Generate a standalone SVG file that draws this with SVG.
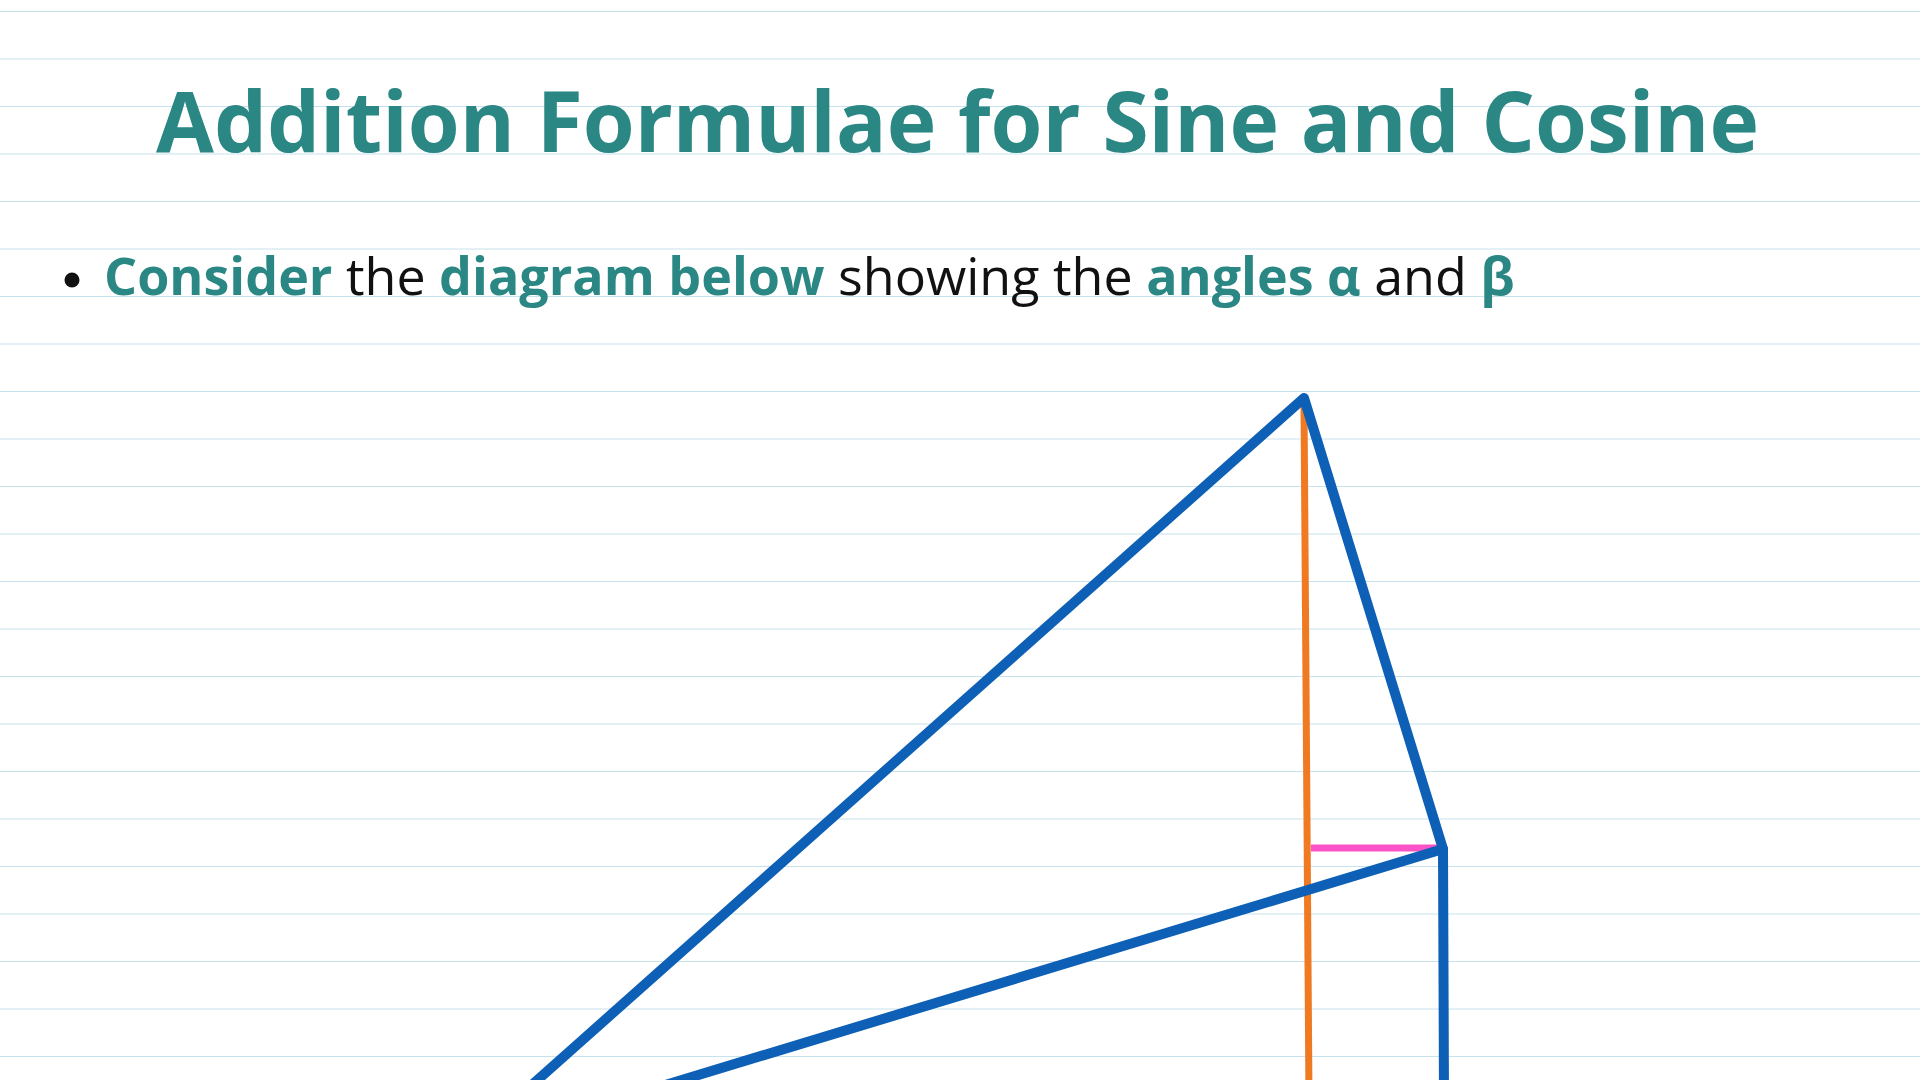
<svg xmlns="http://www.w3.org/2000/svg" width="1920" height="1080" viewBox="0 0 1920 1080">
<defs>
<style>
.rule{stroke:#c6e2ec;stroke-width:2}
.teal{fill:#2a8784;font-weight:700}
.blk{fill:#111111;font-weight:400}
.txt{font-family:"Open Sans","Noto Sans","Liberation Sans",sans-serif}
.blue{stroke:#0d60b6;stroke-width:10;fill:none;stroke-linejoin:round;stroke-linecap:round}
</style>
<pattern id="ruled" x="0" y="11" width="1920" height="47.5" patternUnits="userSpaceOnUse">
<line class="rule" x1="0" y1="0" x2="1920" y2="0"/>
</pattern>
</defs>
<rect width="1920" height="1080" fill="#ffffff"/>
<g id="paper">
<rect x="0" y="0" width="1920" height="1080" fill="url(#ruled)"/>
</g>
<g id="title">
<text class="txt teal" x="156" y="152" font-size="84" textLength="1603" lengthAdjust="spacingAndGlyphs">Addition Formulae for Sine and Cosine</text>
</g>
<g id="bullet">
<circle cx="72" cy="280" r="7.5" fill="#111111"/>
<text class="txt" x="104" y="295" font-size="52"><tspan class="teal">Consider</tspan><tspan class="blk"> the </tspan><tspan class="teal">diagram below</tspan><tspan class="blk"> showing the </tspan><tspan class="teal">angles α</tspan><tspan class="blk"> and </tspan><tspan class="teal">β</tspan></text>
</g>
<g id="diagram">
<line id="orange-height" x1="1304" y1="404" x2="1309" y2="1100" stroke="#f07a22" stroke-width="7"/>
<line id="pink-segment" x1="1311" y1="848" x2="1438" y2="848" stroke="#fb52c6" stroke-width="7"/>
<polyline id="outer" class="blue" points="515,1100 1304,398 1443,849 1444,1100"/>
<line id="inner" class="blue" x1="1443" y1="849" x2="616" y2="1100"/>
</g>
</svg>
